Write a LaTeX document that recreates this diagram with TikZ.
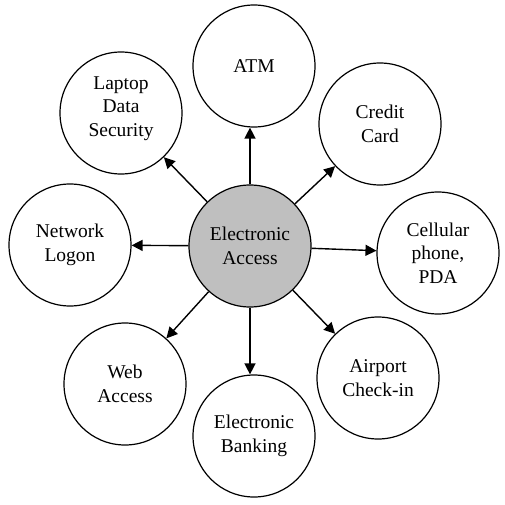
\documentclass[tikz,border=0pt]{standalone}
\usepackage{fontspec}
\setmainfont{Liberation Serif}
\usetikzlibrary{arrows.meta}
\begin{document}
\begin{tikzpicture}[x=1pt,y=-1pt,
  bubble/.style={circle,draw=black,line width=1.2pt,minimum size=122pt,inner sep=0pt,align=center,
    font=\fontsize{19.5}{23.5}\selectfont},
  hub/.style={bubble,fill=black!25},
  link/.style={line width=1.4pt,-{Triangle[length=11pt,width=11pt]}}]
\useasboundingbox (0,0) rectangle (505,505);
\node[hub] (c) at (250,246) {Electronic\\Access};
\node[bubble] (atm) at (254,66) {ATM};
\node[bubble] (lap) at (121,113) {Laptop\\Data\\Security\rule[-13pt]{0pt}{1pt}};
\node[bubble] (cred) at (380,124) {Credit\\Card};
\node[bubble] (net) at (70,245) {Network\\Logon};
\node[bubble] (cell) at (438,253) {Cellular\\phone,\\PDA};
\node[bubble] (web) at (125,384) {Web\\Access};
\node[bubble] (bank) at (254,436) {Electronic\\Banking};
\node[bubble] (air) at (378,378) {Airport\\Check-in};
\draw[link] (c.north) -- (c.north |- atm.south);
\draw[link] (c) -- (lap);
\draw[link] (c) -- (cred);
\draw[link] (c) -- (net);
\draw[link] (c) -- (cell);
\draw[link] (c) -- (web);
\draw[link] (c.south) -- (c.south |- bank.north);
\draw[link] (c) -- (air);
\end{tikzpicture}
\end{document}
